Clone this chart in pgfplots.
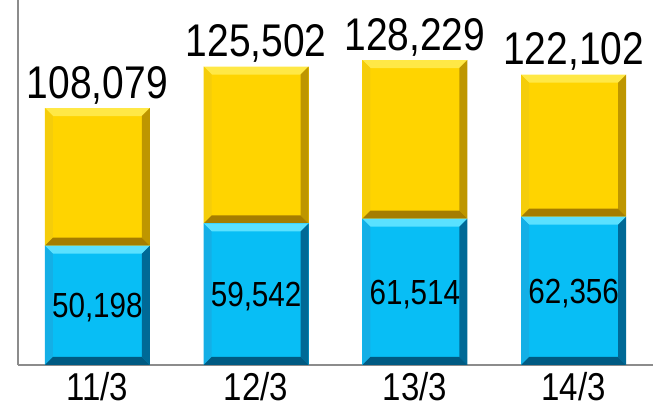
\documentclass[border=0pt]{standalone}
\usepackage{pgfplots}
\pgfplotsset{compat=1.18}
\usepackage{fontspec}
\setmainfont{Liberation Sans}[FakeStretch=0.85]
\definecolor{yel}{RGB}{255,212,0}
\definecolor{yelT}{RGB}{255,232,70}
\definecolor{yelL}{RGB}{245,205,10}
\definecolor{yelR}{RGB}{190,150,0}
\definecolor{yelB}{RGB}{165,125,0}
\definecolor{blu}{RGB}{8,190,245}
\definecolor{bluT}{RGB}{90,225,255}
\definecolor{bluL}{RGB}{20,175,230}
\definecolor{bluR}{RGB}{0,105,150}
\definecolor{bluB}{RGB}{0,90,130}
\tikzset{
  bevel/.style n args={4}{path picture={
    \tikzset{every path/.style={}, path picture={}}%
    \def\b{8bp}%
    \path[path picture={}] (path picture bounding box.north west) coordinate (nw)
      (path picture bounding box.north east) coordinate (ne)
      (path picture bounding box.south west) coordinate (sw)
      (path picture bounding box.south east) coordinate (se);
    \fill[#1, path picture={}] (nw) -- (ne) -- ([xshift=-\b,yshift=-\b]ne) -- ([xshift=\b,yshift=-\b]nw) -- cycle;
    \fill[#2, path picture={}] (nw) -- (sw) -- ([xshift=\b,yshift=\b]sw) -- ([xshift=\b,yshift=-\b]nw) -- cycle;
    \fill[#3, path picture={}] (ne) -- (se) -- ([xshift=-\b,yshift=\b]se) -- ([xshift=-\b,yshift=-\b]ne) -- cycle;
    \fill[#4, path picture={}] (sw) -- (se) -- ([xshift=-\b,yshift=\b]se) -- ([xshift=\b,yshift=\b]sw) -- cycle;
  }}
}
\pgfplotsset{
  frame/.style={scale only axis, width=635bp, height=365bp,
    at={(0,0)}, anchor=south west,
    xmin=-0.5, xmax=3.5, ymin=0, ymax=153500, clip=false},
  baraxis/.style={frame, hide axis, ybar stacked, bar width=105bp},
  blubar/.style={fill=blu, draw=none, bevel={bluT}{bluL}{bluR}{bluB}},
  yelbar/.style={fill=yel, draw=none, bevel={yelT}{yelL}{yelR}{yelB}},
}
\begin{document}
\begin{tikzpicture}
\useasboundingbox (-18bp,-44bp) rectangle (635bp,365bp);
\begin{axis}[frame,
  axis lines*=left, axis line style={draw=gray!90, line width=1.5bp, -},
  ytick=\empty, xtick={0,1,2,3}, xtick style={draw=none},
  xticklabels={11/3,12/3,13/3,14/3},
  xticklabel style={anchor=base, yshift=-35bp, font=\fontsize{39}{39}\selectfont, inner sep=0pt},
]
\addplot[draw=none, mark=none, forget plot] coordinates {(0,0) (3,0)};
\end{axis}
\begin{axis}[baraxis]
\addplot[blubar] coordinates {(0,50198)};
\addplot[yelbar] coordinates {(0,57881)};
\end{axis}
\begin{axis}[baraxis]
\addplot[blubar] coordinates {(1,59542)};
\addplot[yelbar] coordinates {(1,65960)};
\end{axis}
\begin{axis}[baraxis]
\addplot[blubar] coordinates {(2,61514)};
\addplot[yelbar] coordinates {(2,66715)};
\end{axis}
\begin{axis}[baraxis]
\addplot[blubar] coordinates {(3,62356)};
\addplot[yelbar] coordinates {(3,59746)};
\end{axis}
\begin{axis}[frame, hide axis]
\addplot[draw=none, mark=none, point meta=explicit symbolic, nodes near coords,
  every node near coord/.style={anchor=base, yshift=-12.5bp, inner sep=0pt, font=\fontsize{35}{35}\selectfont, text=black}]
  coordinates {(0,25099)[50{,}198] (1,29771)[59{,}542] (2,30757)[61{,}514] (3,31178)[62{,}356]};
\addplot[draw=none, mark=none, point meta=explicit symbolic, nodes near coords,
  every node near coord/.style={anchor=base, yshift=10bp, inner sep=0pt, font=\fontsize{46}{46}\selectfont, text=black}]
  coordinates {(0,108079)[108{,}079] (1,125502)[125{,}502] (2,128229)[128{,}229] (3,122102)[122{,}102]};
\end{axis}
\end{tikzpicture}
\end{document}
